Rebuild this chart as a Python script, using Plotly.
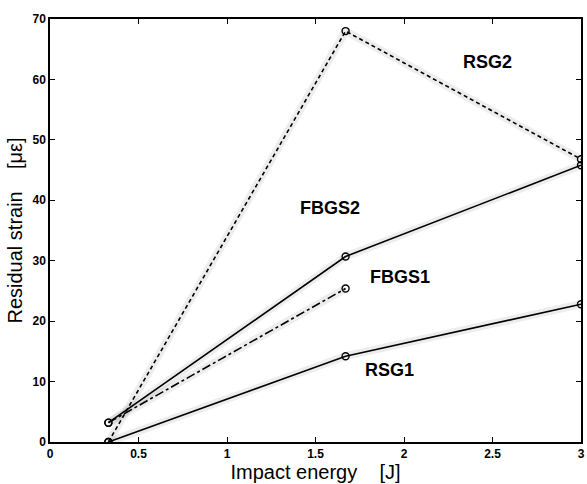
import plotly.graph_objects as go

energy3 = [0.33, 1.67, 3.0]
energy2 = [0.33, 1.67]
rsg1 = [0.0, 14.2, 22.8]
rsg2 = [0.0, 68.0, 46.8]
fbgs2 = [3.2, 30.7, 45.8]
fbgs1 = [3.2, 25.4]

labels = ["RSG2", "FBGS2", "FBGS1", "RSG1"]
label_x = [2.47, 1.58, 1.98, 1.92]
label_y = [62.9, 38.7, 27.3, 11.9]

xticks = [0, 0.5, 1, 1.5, 2, 2.5, 3]
xticklabels = ["0", "0.5", "1", "1.5", "2", "2.5", "3"]
yticks = [0, 10, 20, 30, 40, 50, 60, 70]

fig = go.Figure()

series = [
    (energy3, rsg2, "4px,3px"),
    (energy3, fbgs2, "solid"),
    (energy2, fbgs1, "dashdot"),
    (energy3, rsg1, "solid"),
]
# faint halo (scan speckle)
for xs, ys, dash in series:
    fig.add_trace(go.Scatter(x=xs, y=ys, mode="lines",
                             line=dict(color="rgba(0,0,0,0.07)", width=8),
                             hoverinfo="skip", showlegend=False))
for xs, ys, dash in series:
    fig.add_trace(go.Scatter(x=xs, y=ys, mode="lines+markers",
                             line=dict(color="black", width=1.6, dash=dash),
                             marker=dict(symbol="circle-open", size=7,
                                         color="black", line=dict(width=1.4)),
                             showlegend=False))

for t, x, y in zip(labels, label_x, label_y):
    fig.add_annotation(x=x, y=y, text=t, showarrow=False,
                       font=dict(family="Liberation Sans, Arial", size=18, color="black",
                                 weight="bold"))

axis_common = dict(showline=True, linecolor="black", linewidth=1.5, mirror="ticks",
                   ticks="inside", ticklen=5, tickcolor="black", showgrid=False,
                   zeroline=False,
                   tickfont=dict(family="Liberation Sans, Arial", size=12, color="black",
                                 weight="bold"))

fig.update_xaxes(range=[0, 3], tickvals=xticks, ticktext=xticklabels,
                 title=dict(text="Impact energy&nbsp;&nbsp;&nbsp;&nbsp;[J]",
                            font=dict(family="Liberation Sans, Arial", size=20, color="black"),
                            standoff=2),
                 **axis_common)
fig.update_yaxes(range=[0, 70], tickvals=yticks,
                 title=dict(text="Residual strain&nbsp;&nbsp;&nbsp;&nbsp;[με]",
                            font=dict(family="Liberation Sans, Arial", size=20, color="black"),
                            standoff=4),
                 **axis_common)

fig.update_layout(width=587, height=484,
                  margin=dict(l=50, r=2, t=19, b=42),
                  plot_bgcolor="white", paper_bgcolor="white")

fig.write_html("out.html")
